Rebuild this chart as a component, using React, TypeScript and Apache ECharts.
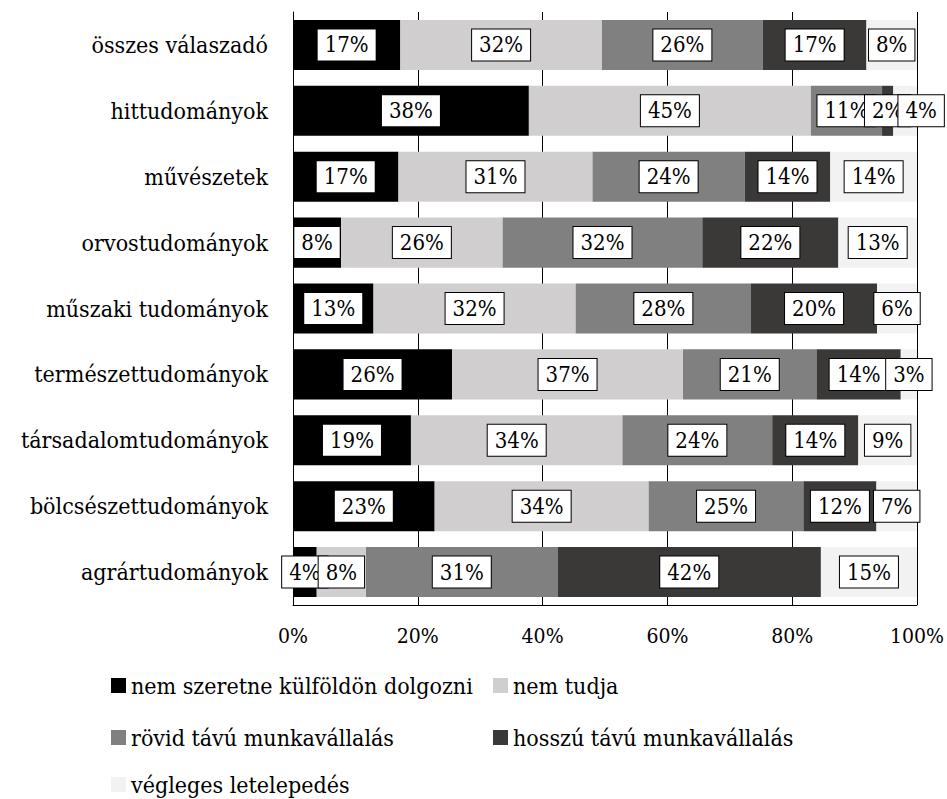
import React, { useEffect, useRef } from "react";
import * as echarts from "echarts";

const categories = [
  "összes válaszadó",
  "hittudományok",
  "művészetek",
  "orvostudományok",
  "műszaki tudományok",
  "természettudományok",
  "társadalomtudományok",
  "bölcsészettudományok",
  "agrártudományok",
];

const seriesNames = [
  "nem szeretne külföldön dolgozni",
  "nem tudja",
  "rövid távú munkavállalás",
  "hosszú távú munkavállalás",
  "végleges letelepedés",
];

const nemSzeretne = [17.2, 37.8, 16.9, 7.7, 12.9, 25.5, 18.9, 22.7, 3.8];
const nemTudja = [32.3, 45.2, 31.1, 25.9, 32.4, 37.0, 33.9, 34.3, 7.9];
const rovidTavu = [25.8, 11.4, 24.4, 32.0, 28.1, 21.4, 24.0, 24.8, 30.7];
const hosszuTavu = [16.6, 1.8, 13.7, 21.8, 20.2, 13.5, 13.8, 11.7, 42.2];
const vegleges = [8.1, 3.8, 13.9, 12.6, 6.4, 2.6, 9.4, 6.5, 15.4];

const xTicks = [0, 20, 40, 60, 80, 100];

const colors = ["#000000", "#d0cece", "#808080", "#3b3838", "#f2f2f2"];

const FONT = "DejaVu Serif Condensed";

export default function App() {
  const ref = useRef<HTMLDivElement>(null);
  useEffect(() => {
    if (!ref.current) return;
    const chart = echarts.init(ref.current, undefined, { renderer: "svg" });
    const allData = [nemSzeretne, nemTudja, rovidTavu, hosszuTavu, vegleges];
    const legendPos = [
      { left: 111, top: 673 },
      { left: 493, top: 725 - 52 },
      { left: 111, top: 725 },
      { left: 493, top: 725 },
      { left: 111, top: 772 },
    ];
    const option: any = {
      animation: false,
      backgroundColor: "#ffffff",
      grid: { left: 293, right: 29, top: 12, bottom: 194, containLabel: false },
      xAxis: {
        type: "value",
        min: xTicks[0],
        max: xTicks[xTicks.length - 1],
        interval: 20,
        axisLine: { show: true, lineStyle: { color: "#000", width: 1 } },
        axisTick: { show: false },
        splitLine: { show: true, lineStyle: { color: "#000", width: 1 } },
        axisLabel: {
          formatter: "{value}%",
          color: "#000",
          fontFamily: FONT,
          fontSize: 21,
          margin: 20,
        },
      },
      yAxis: {
        type: "category",
        inverse: true,
        data: categories,
        axisLine: { show: true, lineStyle: { color: "#000", width: 1 } },
        axisTick: { show: false },
        axisLabel: { color: "#000", fontFamily: FONT, fontSize: 23, margin: 25 },
      },
      legend: seriesNames.map((n, i) => ({
        data: [n],
        left: legendPos[i].left,
        top: legendPos[i].top,
        orient: "horizontal",
        padding: 0,
        itemWidth: 15,
        itemHeight: 15,
        icon: "rect",
        selectedMode: false,
        textStyle: { color: "#000", fontFamily: FONT, fontSize: 23, lineHeight: 25 },
      })),
      series: seriesNames.map((n, si) => ({
        name: n,
        type: "bar",
        stack: "total",
        barCategoryGap: "24%",
        itemStyle: { color: colors[si] },
        label: {
          show: true,
          position: "inside",
          formatter: (p: any) => Math.round(p.value) + "%",
          color: "#000",
          fontFamily: FONT,
          fontSize: 22,
          backgroundColor: "#ffffff",
          borderColor: "#000",
          borderWidth: 1,
          padding: [4, 7, 3, 7],
          lineHeight: 24,
        },
        data: allData[si].map((v, ci) =>
          si === 4 && ci === 1 ? { value: v, label: { offset: [16, 0] } } : v
        ),
      })),
    };
    chart.setOption(option);
    return () => chart.dispose();
  }, []);
  return (
    <div
      ref={ref}
      style={{ position: "fixed", left: 0, top: 0, width: 947, height: 799 }}
    />
  );
}
